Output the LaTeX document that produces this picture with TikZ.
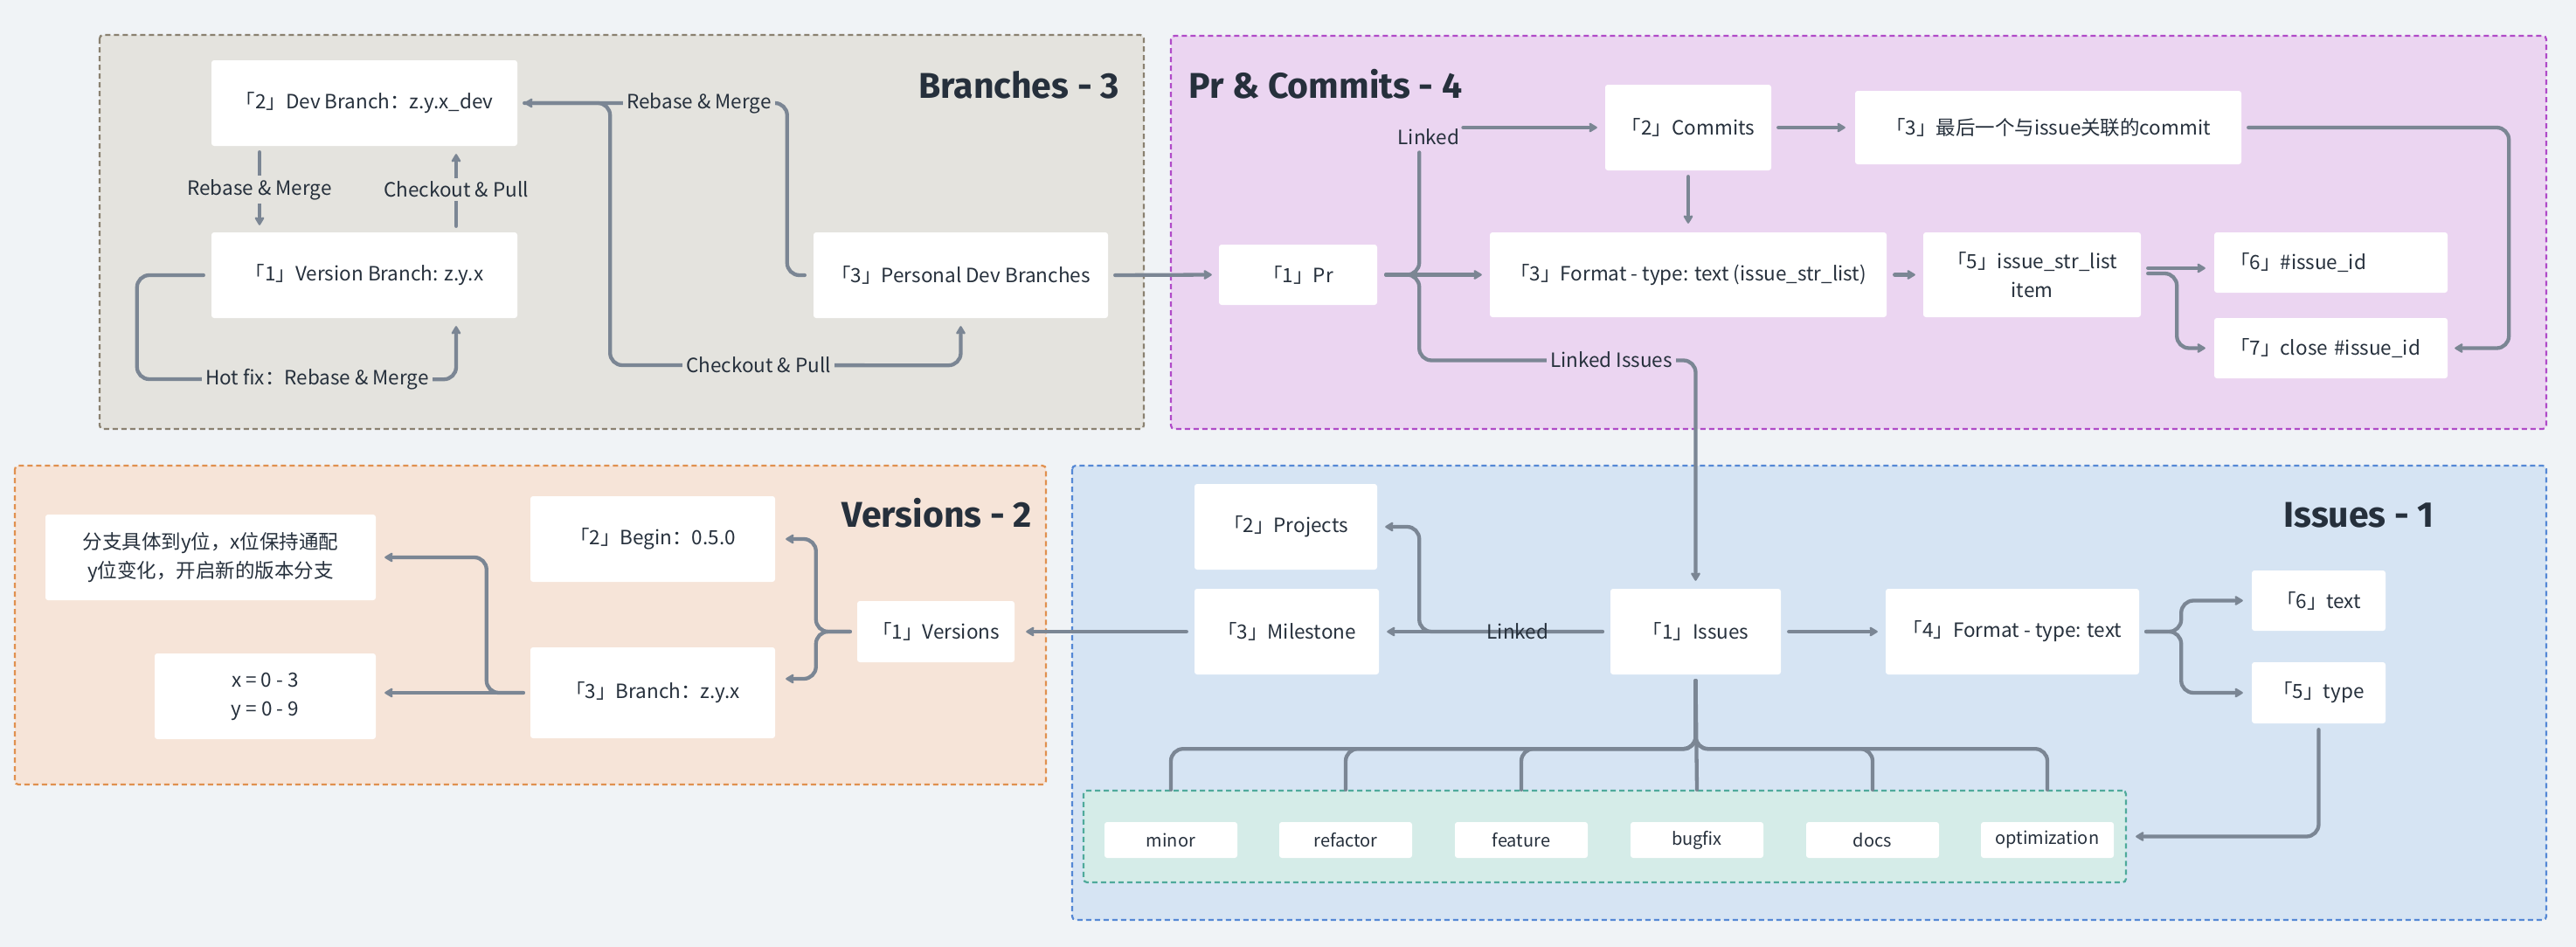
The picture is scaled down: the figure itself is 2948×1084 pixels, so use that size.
\documentclass[tikz,border=0pt]{standalone}
\usepackage{fontspec}
\setmainfont{Noto Sans CJK SC}
\newfontfamily\titlefont{Fira Sans}
\usetikzlibrary{arrows.meta,calc}

\definecolor{bgc}{HTML}{F0F3F6}
\definecolor{brfill}{HTML}{E4E3DE}
\definecolor{brline}{HTML}{8A8170}
\definecolor{prfill}{HTML}{EBD5F1}
\definecolor{prline}{HTML}{B04AC8}
\definecolor{vefill}{HTML}{F6E4D8}
\definecolor{veline}{HTML}{E0904F}
\definecolor{isfill}{HTML}{D6E4F3}
\definecolor{isline}{HTML}{5588D5}
\definecolor{lbfill}{HTML}{D5ECE8}
\definecolor{lbline}{HTML}{4FAA9B}
\definecolor{conc}{HTML}{7B8694}
\definecolor{txtc}{HTML}{26303C}

\tikzset{
  grp/.style={line width=2.2pt, dash pattern=on 6pt off 4pt, rounded corners=4pt},
  box/.style={fill=white, rounded corners=3pt, text=txtc, font=\fontsize{22.5}{33}\selectfont, align=center, inner sep=0pt},
  tagbox/.style={box, font=\fontsize{20}{24}\selectfont, minimum width=152pt, minimum height=41pt},
  lbl/.style={text=txtc, font=\fontsize{22.5}{26}\selectfont, inner sep=4pt},
  grptitle/.style={text=txtc, font=\titlefont\bfseries\fontsize{41}{41}\selectfont, inner sep=0pt},
  conn/.style={draw=conc, line width=4.3pt, line cap=round, rounded corners=14pt, -{Stealth[length=11pt,width=13pt,inset=2pt,round]}},
  wire/.style={draw=conc, line width=4.3pt, line cap=round, rounded corners=14pt},
}

\begin{document}
\begin{tikzpicture}[x=1pt,y=-1pt]
\fill[bgc] (0,0) rectangle (2948,1084);
\useasboundingbox (0,0) rectangle (2948,1084);

% groups
\draw[grp, draw=brline, fill=brfill] (114,40) rectangle (1309,491);
\draw[grp, draw=prline, fill=prfill] (1340,41) rectangle (2914,491);
\draw[grp, draw=veline, fill=vefill] (17,533) rectangle (1197,898);
\draw[grp, draw=isline, fill=isfill] (1227,533) rectangle (2914,1053);
\node[grp, draw=lbline, fill=lbfill, minimum width=1193pt, minimum height=105pt, inner sep=0pt] (lgrp) at (1836.5,957.5) {};

% titles
\node[grptitle, anchor=base east] (tBr) at (1281,112) {Branches - 3};
\node[grptitle, anchor=base west] (tPr) at (1360,112) {Pr \& Commits - 4};
\node[grptitle, anchor=base east] (tVe) at (1181,603) {Versions - 2};
\node[grptitle, anchor=base east] (tIs) at (2786,603) {Issues - 1};

% Branches
\node[box, minimum width=350pt, minimum height=98pt] (nDev) at (417,118) {「2」Dev Branch：z.y.x\_dev};
\node[box, minimum width=350pt, minimum height=98pt] (nVer) at (417,315) {「1」Version Branch: z.y.x};
\node[box, minimum width=337pt, minimum height=98pt] (nPDev) at (1099.5,315) {「3」Personal Dev Branches};

% Pr & Commits
\node[box, minimum width=181pt, minimum height=69pt] (nPr) at (1485.5,314.5) {「1」Pr};
\node[box, minimum width=190pt, minimum height=98pt] (nCom) at (1932,146) {「2」Commits};
\node[box, minimum width=442pt, minimum height=84pt] (nLast) at (2344,146) {「3」最后一个与issue关联的commit};
\node[box, minimum width=454pt, minimum height=97pt] (nFmtA) at (1932,314.5) {「3」Format - type: text (issue\_str\_list)};
\node[box, minimum width=249pt, minimum height=97pt] (nItem) at (2325.5,314.5) {「5」issue\_str\_list\\item};
\node[box, minimum height=69pt, text width=231pt, inner xsep=18pt, align=left] (nIid) at (2667.5,300.5) {「6」\#issue\_id};
\node[box, minimum height=69pt, text width=231pt, inner xsep=18pt, align=left] (nClose) at (2667.5,398.5) {「7」close \#issue\_id};

% Versions
\node[box, minimum width=378pt, minimum height=98pt] (nNote) at (241,638) {分支具体到y位，x位保持通配\\y位变化，开启新的版本分支};
\node[box, minimum width=253pt, minimum height=98pt] (nXY) at (303.5,797) {x = 0 - 3\\y = 0 - 9};
\node[box, minimum width=280pt, minimum height=98pt] (nBegin) at (747,617) {「2」Begin：0.5.0};
\node[box, minimum width=280pt, minimum height=104pt] (nVBr) at (747,793) {「3」Branch：z.y.x};
\node[box, minimum width=180pt, minimum height=70pt] (nVers) at (1071,723) {「1」Versions};

% Issues
\node[box, minimum width=209pt, minimum height=98pt] (nProj) at (1471.5,603) {「2」Projects};
\node[box, minimum width=211pt, minimum height=98pt] (nMile) at (1472.5,723) {「3」Milestone};
\node[box, minimum width=195pt, minimum height=98pt] (nIss) at (1940.5,723) {「1」Issues};
\node[box, minimum width=290pt, minimum height=98pt] (nFmtB) at (2303,723) {「4」Format - type: text};
\node[box, minimum width=153pt, minimum height=69pt] (nTxt) at (2653.5,687.5) {「6」text};
\node[box, minimum width=153pt, minimum height=70pt] (nTyp) at (2653.5,793) {「5」type};

\node[tagbox] (tMinor) at (1340,961.5) {minor};
\node[tagbox] (tRefactor) at (1540,961.5) {refactor};
\node[tagbox] (tFeature) at (1741,961.5) {feature};
\node[tagbox] (tBugfix) at (1942,961.5) {bugfix};
\node[tagbox] (tDocs) at (2143,961.5) {docs};
\node[tagbox] (tOptim) at (2343,961.5) {optimization};

% ---------- connectors: Branches
\draw[conn] ([xshift=-120pt,yshift=-7pt]nDev.south) -- ([xshift=-120pt,yshift=8pt]nVer.north);
\node[lbl, fill=brfill] (lRM1) at (297,217) {Rebase \& Merge};
\draw[conn] ([xshift=105pt,yshift=7pt]nVer.north) -- ([xshift=105pt,yshift=-9pt]nDev.south);
\node[lbl, fill=brfill] (lCP1) at (522,217) {Checkout \& Pull};
\draw[conn] ([xshift=-9pt]nVer.west) -- ($(nVer.west)+(-85,0)$) -- ($(nVer.west)+(-85,119)$) -- ($(nVer.south)+(105,70)$) -- ([xshift=105pt,yshift=-9pt]nVer.south);
\node[lbl, fill=brfill] (lHot) at (363,434) {Hot fix：Rebase \& Merge};
\draw[conn] ([xshift=-10pt]nPDev.west) -- ($(nPDev.west)+(-30,0)$) -- ($(nPDev.west |- nDev.east)+(-30,0)$) -- ([xshift=8pt]nDev.east);
\draw[conn] ([xshift=8pt]nDev.east) -- ($(nDev.east)+(106,0)$) -- ($(nDev.east)+(106,300)$) -- ($(nPDev.south)+(0,54)$) -- ([yshift=-9pt]nPDev.south);
\node[lbl, fill=brfill] (lRM2) at (800,118) {Rebase \& Merge};
\node[lbl, fill=brfill] (lCP2) at (868,418) {Checkout \& Pull};
\draw[conn] ([xshift=8pt]nPDev.east) -- ([xshift=-8pt]nPr.west);

% ---------- connectors: Pr & Commits
\draw[conn] ([xshift=10pt]nPr.east) -- ([xshift=-9pt]nFmtA.west);
\draw[wire] ([xshift=10pt]nPr.east) -- ($(nPr.east)+(48,0)$) -- ($(nPr.east)+(48,-140)$);
\node[lbl, inner sep=0pt] (lLk1) at (1635,157) {Linked};
\draw[conn] ($(lLk1.east |- nCom.west)+(4,0)$) -- ([xshift=-9pt]nCom.west);
\draw[conn] ([xshift=10pt]nPr.east) -- ($(nPr.east)+(48,0)$) -- ($(nPr.east)+(48,98)$) -- ($(nIss.north |- nPr.east)+(0,98)$) -- ([yshift=9pt]nIss.north);
\node[lbl, fill=prfill] (lLkI) at (1844,412) {Linked Issues};
\draw[conn] ([yshift=-7pt]nCom.south) -- ([yshift=10pt]nFmtA.north);
\draw[conn] ([xshift=8pt]nCom.east) -- ([xshift=-11pt]nLast.west);
\draw[conn] ([xshift=8pt]nLast.east) -- ($(nLast.east)+(306,0)$) -- ($(nClose.east)+(70,0)$) -- ([xshift=8pt]nClose.east);
\draw[conn] ([xshift=9pt]nFmtA.east) -- ([xshift=-9pt]nItem.west);
\draw[conn] ($(nItem.east)+(8,-7.5)$) -- ($(nIid.west)+(-10,6.5)$);
\draw[conn] ($(nItem.east)+(8,-1.5)$) -- ($(nItem.east)+(41,-1.5)$) -- ($(nItem.east |- nClose.west)+(41,0)$) -- ([xshift=-10pt]nClose.west);

% ---------- connectors: Versions
\draw[conn] ([xshift=-8pt]nVers.west) -- ($(nVers.west)+(-47,0)$) -- ($(nVers.west |- nBegin.east)+(-47,0)$) -- ([xshift=12pt]nBegin.east);
\draw[conn] ([xshift=-8pt]nVers.west) -- ($(nVers.west)+(-47,0)$) -- ($(nVers.west |- nVBr.east)+(-47,-16)$) -- ($(nVBr.east)+(12,-16)$);
\draw[conn] ([xshift=-8pt]nVBr.west) -- ($(nXY.east |- nVBr.west)+(10,0)$);
\draw[conn] ([xshift=-8pt]nVBr.west) -- ($(nVBr.west)+(-50,0)$) -- ($(nVBr.west |- nNote.east)+(-50,0)$) -- ([xshift=10pt]nNote.east);
\draw[conn] ([xshift=-9pt]nMile.west) -- ([xshift=13pt]nVers.east);

% ---------- connectors: Issues
\draw[conn] ([xshift=-9pt]nIss.west) -- ([xshift=9pt]nMile.east);
\draw[conn] ([xshift=-9pt]nIss.west) -- ($(nProj.east |- nIss.west)+(48,0)$) -- ($(nProj.east)+(48,0)$) -- ([xshift=9pt]nProj.east);
\node[lbl, inner sep=0pt] (lLk2) at (1737,723) {Linked};
\draw[conn] ([xshift=9pt]nIss.east) -- ([xshift=-9pt]nFmtB.west);
\draw[conn] ([xshift=8pt]nFmtB.east) -- ($(nFmtB.east)+(48,0)$) -- ($(nFmtB.east |- nTxt.west)+(48,0)$) -- ([xshift=-10pt]nTxt.west);
\draw[conn] ([xshift=8pt]nFmtB.east) -- ($(nFmtB.east)+(48,0)$) -- ($(nFmtB.east |- nTyp.west)+(48,0)$) -- ([xshift=-10pt]nTyp.west);
\draw[conn] ([yshift=-7pt]nTyp.south) -- ($(nTyp.south |- lgrp.east)$) -- ([xshift=10pt]lgrp.east);
\foreach \t in {tMinor,tRefactor,tFeature,tDocs,tOptim}{
  \draw[wire] ([yshift=-7pt]nIss.south) -- ($(nIss.south)+(0,85)$) -| (\t.north |- lgrp.north);
}
\draw[wire] ([yshift=-7pt]nIss.south) -- (tBugfix.north |- lgrp.north);
\end{tikzpicture}
\end{document}
